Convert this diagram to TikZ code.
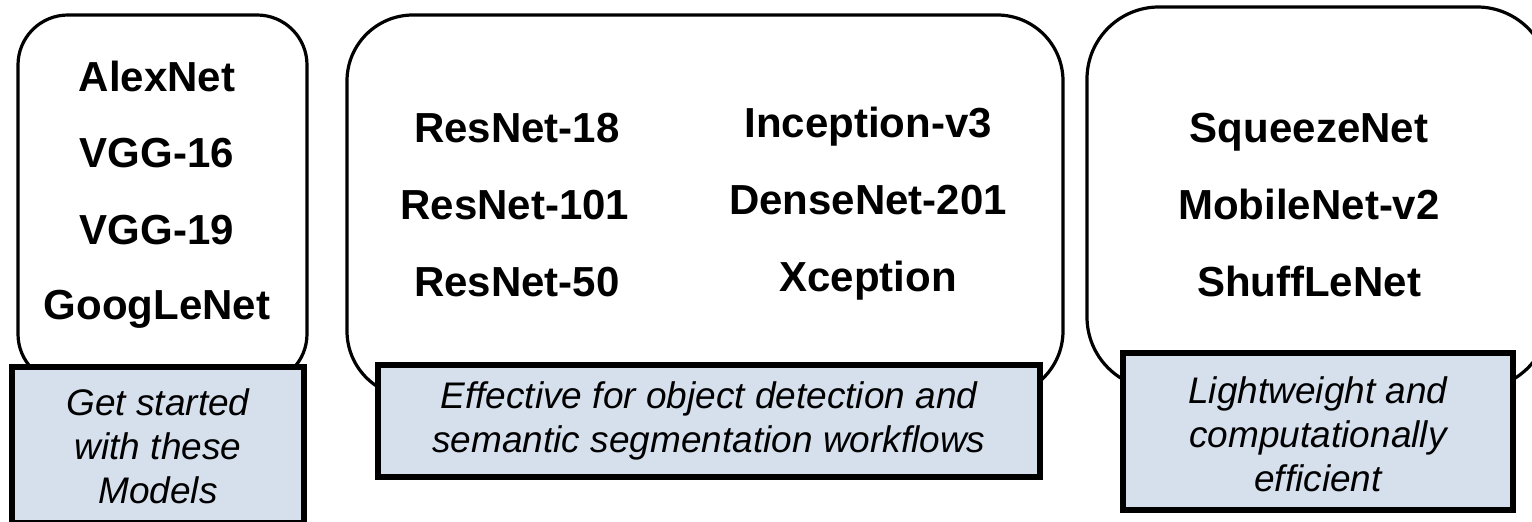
\documentclass[tikz,border=0pt]{standalone}
\usepackage{fontspec}
\setmainfont{Liberation Sans}

\definecolor{capblue}{RGB}{214,224,237}

\tikzset{
	grpbox/.style={draw=black, line width=1.6pt, fill=white, rounded corners=#1},
	capbox/.style={draw=black, line width=2.6pt, fill=capblue},
	model/.style={anchor=base, inner sep=0pt, font=\fontsize{21}{24}\selectfont\bfseries},
	captext/.style={align=center, inner sep=0pt, font=\fontsize{18.5}{22}\selectfont\itshape}
}

\begin{document}
\begin{tikzpicture}[x=0.5pt,y=-0.5pt]
	\useasboundingbox (0,0) rectangle (1532,522);
	\clip (0,0) rectangle (1532,522);
	\fill[white] (0,0) rectangle (1532,522);

	% the three groups
	\draw[grpbox=25pt] (18,15) rectangle (307,384);
	\draw[grpbox=33pt] (347,15) rectangle (1063,397);
	\draw[grpbox=36pt] (1087,7) rectangle (1549,389);

	\foreach \txt/\x/\y [count=\i] in {AlexNet/157/92, VGG-16/157/168, VGG-19/157/245, GoogLeNet/157/320,
		ResNet-18/517/143, ResNet-101/515/220, ResNet-50/517/297,
		Inception-v3/868/138, DenseNet-201/868/215, Xception/868/292,
		SqueezeNet/1309/143, MobileNet-v2/1309/220, ShuffLeNet/1309/297}{
		\node[model] (net\i) at (\x,\y) {\txt};
	}

	% captions below each group
	\draw[capbox] (12,367) rectangle (304,523);
	\node[captext] (capstart) at (158,446) {Get started\\with these\\Models};

	\draw[capbox] (378,365) rectangle (1040,477);
	\node[captext] (capdetect) at (709,421) {Effective for object detection and\\semantic segmentation workflows};

	\draw[capbox] (1123,353) rectangle (1513,510);
	\node[captext] (caplight) at (1318,434) {Lightweight and\\computationally\\efficient};
\end{tikzpicture}
\end{document}
